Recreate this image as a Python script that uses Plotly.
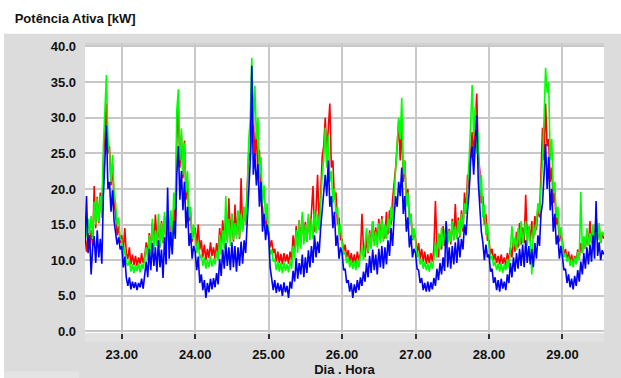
import numpy as np
import plotly.graph_objects as go

# Sampling grid: day 22 at 12:00, one reading every 30 minutes
START_DAY = 22.5
STEP_DAYS = 1 / 48

# Phase A (red), kW
fase_a = [
    # 22 (12:00-23:30)
    13.2, 11.2, 13.8, 11.6, 14.2, 12.0, 20.4, 14.5, 18.9, 15.2, 19.5, 16.0,
    24.0, 28.0, 32.0, 25.0, 26.0, 20.5, 23.5, 18.0, 16.5, 13.5, 14.8, 12.4,
    # 23
    13.5, 11.2, 14.5, 11.0, 10.2, 11.8, 9.4, 10.8, 9.3, 10.6, 9.2, 10.4,
    9.5, 11.0, 9.6, 10.5, 12.5, 10.8, 13.8, 11.5, 15.2, 12.0, 16.4, 12.6,
    14.8, 11.8, 15.5, 12.4, 16.2, 12.8, 15.0, 13.2, 16.0, 12.6, 17.2, 15.0,
    27.0, 31.7, 23.0, 27.5, 21.5, 26.8, 18.5, 21.0, 15.5, 16.8, 12.6, 14.2,
    # 24
    14.5, 12.0, 15.0, 11.5, 12.8, 10.4, 12.2, 10.0, 11.6, 10.3, 12.5, 10.6,
    11.8, 10.2, 12.4, 11.0, 14.5, 11.8, 15.6, 12.4, 16.2, 12.8, 18.7, 13.2,
    16.5, 12.6, 17.8, 13.5, 16.8, 13.0, 21.5, 14.2, 17.5, 15.0, 21.0, 25.0,
    24.0, 28.5, 30.0, 24.5, 28.0, 22.0, 25.5, 18.5, 17.5, 14.8, 16.5, 13.6,
    # 25
    14.0, 11.8, 12.8, 11.0, 11.6, 9.8, 11.2, 9.6, 10.9, 9.4, 11.0, 9.8,
    10.8, 9.5, 11.2, 10.0, 13.5, 11.2, 14.8, 12.0, 15.6, 12.4, 16.2, 12.8,
    15.4, 12.6, 16.0, 13.2, 16.8, 20.4, 14.0, 17.2, 22.0, 15.0, 19.0, 24.5,
    26.0, 30.0, 25.0, 29.5, 32.0, 23.0, 24.0, 18.5, 19.5, 15.0, 16.0, 12.8,
    # 26
    13.0, 11.2, 12.2, 10.4, 11.4, 9.8, 11.0, 9.6, 10.8, 9.5, 11.2, 9.9,
    11.0, 16.5, 11.5, 10.4, 13.2, 11.0, 14.2, 11.8, 15.5, 12.6, 14.6, 12.4,
    15.8, 12.8, 16.2, 13.0, 13.2, 16.8, 13.6, 17.0, 15.0, 18.5, 20.5, 23.0,
    26.0, 29.6, 24.0, 29.0, 21.0, 24.0, 18.5, 20.0, 15.5, 16.5, 12.8, 14.0,
    # 27
    13.0, 11.0, 12.4, 10.2, 11.6, 9.8, 11.2, 9.5, 10.8, 9.6, 11.0, 9.8,
    11.6, 18.3, 12.0, 10.4, 13.6, 11.5, 14.8, 12.0, 15.2, 12.6, 14.4, 12.2,
    15.8, 12.8, 17.9, 13.0, 16.0, 13.2, 17.0, 14.0, 19.5, 16.5, 22.0, 20.0,
    25.0, 28.0, 24.5, 30.0, 33.4, 25.0, 22.5, 18.0, 19.0, 15.0, 16.5, 12.8,
    # 28
    12.8, 10.8, 11.6, 10.0, 10.9, 9.6, 10.6, 9.4, 10.8, 9.5, 10.4, 9.2,
    11.0, 9.8, 11.8, 10.4, 13.0, 11.2, 14.0, 11.8, 15.2, 12.2, 14.6, 12.4,
    19.2, 12.8, 14.8, 12.6, 15.5, 13.0, 16.2, 14.2, 17.5, 16.0, 22.0, 28.6,
    24.0, 32.0, 26.0, 27.0, 21.0, 23.0, 18.0, 19.5, 15.0, 16.0, 12.6, 13.8,
    # 29 (00:00-13:30)
    12.6, 10.6, 11.6, 10.0, 11.2, 9.6, 10.8, 9.4, 10.6, 9.8, 11.5, 10.4,
    12.4, 11.0, 13.2, 11.6, 14.0, 12.0, 15.5, 12.4, 14.4, 12.6, 16.2, 12.8,
    14.8, 12.4, 13.8, 13.0,
]

# Phase B (green), kW
fase_b = [
    # 22 (12:00-23:30)
    15.5, 13.2, 15.8, 13.6, 16.2, 13.0, 18.2, 15.0, 18.7, 15.4, 19.0, 16.0,
    26.0, 31.5, 36.0, 27.0, 25.0, 21.0, 24.8, 19.5, 18.0, 15.0, 16.0, 13.0,
    # 23
    12.8, 10.5, 11.8, 9.6, 9.2, 10.0, 8.4, 9.4, 8.2, 9.3, 8.5, 9.6,
    8.3, 9.5, 8.8, 10.2, 11.8, 10.0, 13.5, 10.8, 15.8, 11.5, 14.2, 12.0,
    16.5, 11.8, 15.2, 12.5, 16.8, 12.2, 14.5, 13.5, 17.0, 13.0, 19.5, 17.0,
    31.0, 34.0, 24.0, 28.5, 22.0, 26.5, 19.5, 22.5, 16.0, 17.5, 13.0, 15.0,
    # 24
    13.5, 11.0, 12.6, 10.2, 10.8, 9.2, 10.4, 8.8, 10.0, 9.0, 10.6, 9.1,
    10.2, 9.4, 11.2, 10.0, 13.6, 10.8, 14.2, 11.6, 19.0, 12.4, 15.8, 12.0,
    16.5, 12.8, 15.2, 13.0, 17.0, 13.2, 16.5, 14.0, 17.5, 15.0, 19.5, 26.8,
    30.0, 38.4, 29.0, 34.5, 27.0, 30.0, 21.5, 24.5, 18.0, 20.5, 15.5, 18.0,
    # 25
    13.0, 10.8, 11.5, 9.8, 10.2, 8.6, 9.8, 8.4, 9.6, 8.2, 9.8, 8.5,
    9.4, 8.3, 10.0, 8.8, 12.0, 10.2, 14.2, 11.0, 15.5, 11.6, 16.8, 12.2,
    15.0, 12.6, 16.5, 12.8, 15.8, 13.0, 17.0, 13.8, 16.5, 14.2, 18.5, 22.0,
    24.0, 28.6, 23.0, 27.5, 21.0, 22.5, 18.0, 20.0, 16.5, 17.5, 13.5, 15.0,
    # 26
    12.5, 10.8, 11.2, 9.6, 10.4, 9.0, 10.0, 8.8, 9.9, 8.6, 10.2, 9.0,
    10.6, 11.8, 10.0, 12.4, 14.5, 11.2, 13.8, 11.6, 15.5, 12.0, 14.0, 11.8,
    15.2, 12.4, 15.8, 12.6, 15.0, 13.0, 16.0, 13.8, 17.5, 15.5, 19.0, 22.5,
    26.0, 30.0, 27.0, 32.8, 22.0, 24.0, 17.5, 19.5, 15.0, 16.5, 13.0, 14.5,
    # 27
    12.6, 10.4, 11.0, 9.4, 10.2, 8.8, 9.8, 8.6, 9.6, 8.4, 9.8, 8.8,
    10.2, 12.6, 10.4, 13.8, 11.4, 14.6, 12.0, 13.8, 15.0, 12.2, 14.2, 12.6,
    15.5, 12.8, 14.8, 13.0, 15.6, 13.4, 16.5, 14.5, 18.0, 16.5, 20.0, 24.0,
    29.0, 34.6, 27.5, 31.5, 25.0, 28.0, 19.0, 22.0, 16.0, 17.8, 13.5, 15.2,
    # 28
    12.0, 10.2, 10.6, 9.2, 9.8, 8.6, 9.5, 8.4, 9.6, 8.2, 9.4, 8.6,
    10.2, 9.0, 11.5, 14.8, 11.8, 13.2, 11.4, 14.5, 12.0, 15.5, 12.4, 14.2,
    15.5, 12.0, 14.8, 12.4, 8.0, 15.0, 13.5, 15.2, 18.0, 16.5, 20.0, 24.0,
    30.0, 37.0, 33.5, 35.0, 24.0, 27.0, 19.5, 21.0, 16.0, 17.5, 13.2, 14.6,
    # 29 (00:00-13:30)
    12.2, 10.4, 11.0, 9.8, 10.5, 9.2, 10.2, 9.0, 10.4, 9.4, 11.2, 10.0,
    19.6, 11.0, 13.4, 11.6, 14.5, 12.0, 13.8, 12.4, 15.0, 12.6, 14.6, 12.8,
    15.2, 12.4, 14.0, 13.6,
]

# Phase C (blue), kW
fase_c = [
    # 22 (12:00-23:30)
    12.4, 19.0, 11.0, 13.5, 8.0, 11.8, 13.4, 9.6, 14.2, 10.4, 13.0, 9.5,
    19.0, 24.0, 28.9, 20.0, 21.0, 16.8, 19.8, 15.5, 14.0, 12.2, 13.2, 11.5,
    # 23
    12.0, 9.0, 10.5, 7.5, 6.4, 7.6, 5.9, 7.0, 6.1, 6.9, 5.8, 6.8,
    6.2, 7.4, 6.0, 7.8, 9.8, 7.6, 11.6, 8.6, 12.4, 9.2, 11.8, 8.4,
    12.8, 9.0, 11.5, 7.5, 13.2, 9.4, 20.2, 10.2, 14.0, 10.8, 15.5, 13.0,
    22.0, 26.0, 18.5, 22.5, 17.0, 21.0, 14.5, 17.5, 12.0, 13.8, 10.2, 12.0,
    # 24
    11.2, 8.6, 10.5, 6.8, 8.0, 5.8, 7.2, 4.7, 6.8, 5.5, 7.4, 5.9,
    7.5, 6.2, 8.2, 6.6, 10.2, 7.8, 11.5, 8.8, 12.4, 9.2, 11.8, 8.6,
    12.5, 9.0, 12.0, 8.4, 11.8, 9.2, 12.6, 9.5, 12.8, 11.0, 16.0, 19.7,
    24.0, 37.3, 22.0, 25.0, 20.5, 23.5, 17.5, 21.0, 14.0, 16.5, 12.8, 15.0,
    # 25
    13.5, 9.0, 7.6, 5.8, 7.2, 5.4, 6.8, 5.6, 6.6, 5.0, 6.9, 5.5,
    6.4, 4.7, 7.0, 6.0, 8.5, 7.0, 10.3, 7.4, 9.6, 8.0, 10.8, 7.6,
    10.4, 8.2, 11.4, 9.0, 12.0, 9.6, 13.5, 10.4, 12.6, 11.0, 14.5, 17.0,
    20.0, 22.0, 19.0, 24.0, 17.5, 19.0, 14.5, 16.8, 12.0, 13.5, 10.2, 11.8,
    # 26
    11.0, 8.6, 8.8, 6.8, 7.2, 5.6, 6.8, 4.7, 6.6, 5.4, 7.2, 5.8,
    7.6, 6.4, 8.4, 7.0, 9.6, 7.6, 10.6, 8.2, 11.5, 8.6, 10.8, 8.0,
    11.6, 9.0, 12.0, 8.8, 11.8, 9.4, 12.8, 10.6, 14.5, 12.0, 16.0, 19.0,
    17.5, 21.0, 19.0, 23.0, 16.5, 19.0, 14.0, 16.0, 11.8, 13.5, 10.4, 11.6,
    # 27
    11.0, 8.8, 8.6, 6.8, 7.5, 5.8, 6.8, 5.6, 7.0, 5.6, 6.9, 5.9,
    7.5, 6.4, 8.8, 7.2, 9.6, 8.0, 10.4, 8.5, 15.5, 9.0, 11.8, 8.8,
    12.0, 9.4, 12.5, 9.6, 13.2, 10.4, 13.0, 11.5, 15.0, 13.5, 17.0, 19.5,
    24.0, 26.0, 22.0, 27.0, 30.3, 21.0, 17.0, 14.0, 12.5, 10.0, 12.2, 10.4,
    # 28
    10.8, 8.4, 8.8, 6.8, 7.6, 5.8, 7.2, 5.6, 7.4, 6.0, 7.0, 5.8,
    8.0, 6.8, 9.6, 7.6, 10.4, 8.4, 11.0, 8.8, 11.6, 9.2, 12.2, 9.0,
    12.8, 9.6, 12.0, 9.4, 11.6, 9.0, 12.4, 10.2, 13.5, 12.0, 16.5, 18.0,
    22.0, 26.3, 20.0, 24.5, 17.0, 20.0, 14.0, 16.5, 12.2, 13.5, 10.2, 12.0,
    # 29 (00:00-13:30)
    10.4, 8.6, 8.8, 6.8, 8.0, 6.2, 7.4, 5.9, 7.8, 6.4, 8.6, 7.0,
    9.8, 8.0, 11.0, 8.8, 11.8, 9.4, 12.2, 9.8, 13.5, 10.2, 18.3, 10.6,
    12.5, 10.0, 11.4, 10.8,
]

dias_ticks = [23, 24, 25, 26, 27, 28, 29]
kw_ticks = [0, 5, 10, 15, 20, 25, 30, 35, 40]

series = [
    ("Fase A", fase_a, "#ff0000"),
    ("Fase B", fase_b, "#00ff00"),
    ("Fase C", fase_c, "#0000ff"),
]

# Page geometry (pixels)
FIG_W, FIG_H = 621, 378
PLOT_L, PLOT_R = 85.0, 604.3
PLOT_T, PLOT_B = 43.5, 333.3
PW, PH = PLOT_R - PLOT_L, PLOT_B - PLOT_T


def px_x(px):
    return (px - PLOT_L) / PW


def px_y(py):
    return (PLOT_B - py) / PH


FONT = "Liberation Sans, Arial, Helvetica, sans-serif"
PANEL = "#dcdcdc"
GRID = "#c8c8c8"
INK = "#111111"

fig = go.Figure()
for name, values, color in series:
    t = START_DAY + np.arange(len(values)) * STEP_DAYS
    fig.add_trace(go.Scatter(
        x=t, y=values, mode="lines", name=name,
        line=dict(color=color, width=1.6),
        showlegend=False,
    ))

shapes = [
    # white header strip above the grey panel
    dict(type="rect", xref="paper", yref="paper", layer="below",
         x0=px_x(-2), x1=px_x(FIG_W + 2), y0=px_y(33.3), y1=px_y(-2),
         fillcolor="white", line_width=0),
    # thin white margin on the left
    dict(type="rect", xref="paper", yref="paper", layer="below",
         x0=px_x(-2), x1=px_x(4), y0=px_y(FIG_H + 2), y1=px_y(-2),
         fillcolor="white", line_width=0),
    # lighter band under the plot area
    dict(type="rect", xref="paper", yref="paper", layer="below",
         x0=0, x1=1, y0=px_y(341.7), y1=0,
         fillcolor="#e2e2e2", line_width=0),
    # lighter strip at the bottom-left corner
    dict(type="rect", xref="paper", yref="paper", layer="below",
         x0=px_x(4), x1=px_x(79), y0=px_y(FIG_H + 2), y1=px_y(372),
         fillcolor="#e4e4e4", line_width=0),
    # top border of the plot area
    dict(type="line", xref="paper", yref="paper",
         x0=0, x1=1, y0=1, y1=1, line=dict(color=GRID, width=1.5)),
]

fig.update_layout(
    width=FIG_W, height=FIG_H,
    margin=dict(l=PLOT_L, r=FIG_W - PLOT_R, t=PLOT_T, b=FIG_H - PLOT_B, pad=0),
    paper_bgcolor=PANEL,
    plot_bgcolor="white",
    font=dict(family=FONT, size=13, color=INK),
    title=dict(
        text="<b>Potência Ativa [kW]</b>",
        xref="container", yref="container",
        x=14.7 / FIG_W, xanchor="left",
        y=1 - 18 / FIG_H, yanchor="middle",
        font=dict(family=FONT, size=13, color=INK),
    ),
    shapes=shapes,
    xaxis=dict(
        range=[22.5, 29.566],
        tickvals=dias_ticks,
        ticktext=[f"<b>{d:.2f}</b>" for d in dias_ticks],
        showgrid=True, gridcolor=GRID, gridwidth=2,
        zeroline=False, showline=False,
        ticks="outside", ticklen=5, tickwidth=1.5, tickcolor="#333333",
        tickfont=dict(family=FONT, size=13, color=INK),
        ticklabelstandoff=4,
        automargin=False,
        title=dict(text="<b>Dia . Hora</b>", standoff=2,
                   font=dict(family=FONT, size=13, color=INK)),
    ),
    yaxis=dict(
        range=[-0.22, 40.35],
        tickvals=kw_ticks,
        ticktext=[f"<b>{v:.1f}</b>" for v in kw_ticks],
        showgrid=True, gridcolor=GRID, gridwidth=2,
        zeroline=False, showline=False,
        ticks="",
        tickfont=dict(family=FONT, size=13, color=INK),
        ticklabelstandoff=8,
        automargin=False,
    ),
)

fig.write_html("out.html")
